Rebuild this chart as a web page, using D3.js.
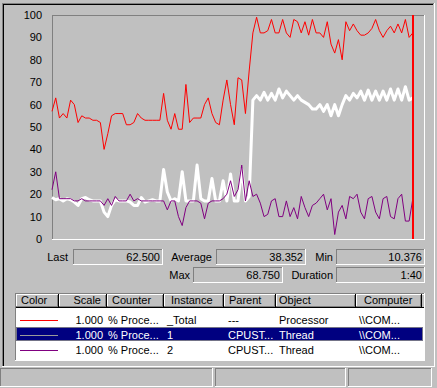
<!DOCTYPE html>
<html>
<head>
<meta charset="utf-8">
<script src="https://cdn.jsdelivr.net/npm/d3@7"></script>
<style>
  body { margin: 0; background: #c0c0c0; }
  svg { display: block; font-family: "Liberation Sans", Arial, sans-serif; font-size: 11px; }
  text { fill: #000; }
</style>
</head>
<body>
<svg width="437" height="388"></svg>
<script>
// one sample per second, 98 samples so far (the red bar marks the current one)
var totalCpu = [57,63,54,56,54,62,60,52,55,54,54,53,53,52,40,47,55,56,56,56,
    51,51,52,56,54,53,53,53,53,53,65,53,49,56,49,49,69,52,54,54,
    54,60,63,56,52,51,62,71,60,51,72,71,56,75,92,99,92,92,93,98,
    92,92,98,92,90,98,97,92,97,91,98,92,92,90,97,87,83,89,80,97,
    93,96,93,91,91,92,94,98,93,90,93,95,92,96,92,98,90,92];
var thread1 = [18.5,17.5,18,17,18,17.5,16.5,15,18,18.5,17.5,17,17,17,12,10,15,17.5,17,17,
    17,16.5,15,15,18.5,16.5,17,17.5,17,17,31,21,17,18,17,30,17,17,17,33,
    18,17,17,27,17,17,26,17,29,17,17,31,17,19,62,64,62,65.5,62,65,
    62,67,63,66,64,62,64,62,61,60,58,58,60,57,60,55,60,55,60,64,
    62,65,63,66,62,66.5,62,66,62,66,62,67,62,67,62,68,62,63];
var thread2 = [22,30,18,18,18,18,17,17,18,17,17,17,17,17,15,18,15,19,17,17,
    17,20,17,18,17,17,17,17,17,17,17,13,17,17,10,6,14,17,17,17,
    16,9,16,17,17,17,18,20,26,19,22,33,17,26,19,20,16,10,11,17,
    18,10,10,17,10,14,9,19,14,10,15,16,18,20,13,18,2,12,15,9,
    19,18,20,12,9,18,19,12,9,18,19,10,9,18,20,8,8,18];

var yTicks = [0,10,20,30,40,50,60,70,80,90,100];

var statLabels = ["Last", "Average", "Min", "Max", "Duration"];
var statValues = ["62.500", "38.352", "10.376", "68.750", "1:40"];

var legendHeaders = ["Color", "Scale", "Counter", "Instance", "Parent", "Object", "Computer"];
var legendColors = ["#ff0000", "#ffffff", "#800080"];
var legendScale = ["1.000", "1.000", "1.000"];
var legendCounter = ["% Proce...", "% Proce...", "% Proce..."];
var legendInstance = ["_Total", "1", "2"];
var legendParent = ["---", "CPUST...", "CPUST..."];
var legendObject = ["Processor", "Thread", "Thread"];
var legendComputer = ["\\\\COM...", "\\\\COM...", "\\\\COM..."];

var svg = d3.select("svg");

function hline(g, x1, x2, y, c) {
  g.append("line").attr("x1", x1).attr("x2", x2).attr("y1", y + 0.5).attr("y2", y + 0.5)
    .attr("stroke", c).attr("shape-rendering", "crispEdges");
}
function vline(g, x, y1, y2, c) {
  g.append("line").attr("x1", x + 0.5).attr("x2", x + 0.5).attr("y1", y1).attr("y2", y2)
    .attr("stroke", c).attr("shape-rendering", "crispEdges");
}
// sunken box: dark top/left, white bottom/right
function sunken(g, x1, y1, x2, y2) {
  hline(g, x1, x2, y1, "#808080");
  vline(g, x1, y1, y2, "#808080");
  hline(g, x1, x2 + 1, y2, "#ffffff");
  vline(g, x2, y1, y2 + 1, "#ffffff");
}

var frame = svg.append("g");
// outer panel
hline(frame, 2, 434, 3, "#808080");
vline(frame, 2, 3, 367, "#808080");
hline(frame, 3, 433, 4, "#000000");
vline(frame, 3, 4, 366, "#000000");
hline(frame, 2, 435, 366, "#ffffff");
vline(frame, 434, 3, 367, "#ffffff");

// graph
var x = d3.scaleLinear().domain([0, 100]).range([52, 424]);
var y = d3.scaleLinear().domain([0, 100]).range([239, 15]);

sunken(frame, 52, 15, 424, 239);

var yAxis = svg.append("g")
    .attr("transform", "translate(52,0)")
    .call(d3.axisLeft(y).tickValues(yTicks).tickSize(0).tickPadding(10));
yAxis.select(".domain").remove();
yAxis.selectAll("text").attr("fill", "#000").style("font-size", "11px")
    .style("font-family", "'Liberation Sans', Arial, sans-serif");

var line = d3.line()
    .x(function(d, i) { return x(i); })
    .y(function(d) { return y(d); });

var series = [totalCpu, thread1, thread2];
var widths = [1, 3, 1];
series.forEach(function(s, k) {
  svg.append("path")
    .datum(s)
    .attr("d", line)
    .attr("fill", "none")
    .attr("stroke", legendColors[k])
    .attr("stroke-width", widths[k])
    .attr("stroke-linejoin", k === 1 ? "round" : "miter");
});

// current-time bar
svg.append("rect")
  .attr("x", Math.round(x(totalCpu.length - 1)) - 1)
  .attr("y", y(100))
  .attr("width", 2)
  .attr("height", y(0) - y(100))
  .attr("fill", "#ff0000");

// statistics boxes
var statBoxes = [[73, 249, 162, 264], [216, 249, 305, 264], [336, 249, 424, 264],
                 [193, 267, 282, 282], [336, 267, 424, 282]];
var labelRight = [68, 212, 333, 190, 333];
statBoxes.forEach(function(b, i) {
  sunken(frame, b[0], b[1], b[2], b[3]);
  svg.append("text").attr("x", labelRight[i]).attr("y", (b[1] + b[3]) / 2 + 4)
    .attr("text-anchor", "end").text(statLabels[i]);
  svg.append("text").attr("x", b[2] - 2).attr("y", (b[1] + b[3]) / 2 + 4)
    .attr("text-anchor", "end").text(statValues[i]);
});

// legend list
var lg = svg.append("g");
sunken(lg, 15, 293, 424, 360);
lg.append("rect").attr("x", 16).attr("y", 308).attr("width", 408).attr("height", 52).attr("fill", "#fff");

var cols = [16, 59, 107, 164, 224, 276, 356, 422];
for (var c = 0; c < cols.length - 1; c++) {
  var x1 = cols[c], x2 = cols[c + 1] - 1;
  hline(lg, x1, x2, 294, "#ffffff");
  vline(lg, x1, 294, 307, "#ffffff");
  hline(lg, x1, x2, 306, "#808080");
  vline(lg, x2 - 1, 295, 307, "#808080");
  hline(lg, x1, x2 + 1, 307, "#000000");
  vline(lg, x2, 294, 308, "#000000");
}
hline(lg, 422, 424, 294, "#ffffff");
hline(lg, 422, 424, 307, "#000000");

var headX = [21, 101, 112, 171, 229, 279, 364];
legendHeaders.forEach(function(h, i) {
  lg.append("text").attr("x", headX[i]).attr("y", 304)
    .attr("text-anchor", i === 1 ? "end" : "start").text(h);
});

var rowY = d3.scaleBand().domain(d3.range(3)).range([311, 356]);
// selected row
lg.append("rect").attr("x", 16).attr("y", rowY(1) + 1).attr("width", 407).attr("height", 14).attr("fill", "#000080");
lg.append("rect").attr("x", 16.5).attr("y", rowY(1) + 1.5).attr("width", 406).attr("height", 13)
  .attr("fill", "none").attr("stroke", "#e8e890").attr("stroke-dasharray", "1,1");

legendInstance.forEach(function(inst, i) {
  var cy = rowY(i) + rowY.bandwidth() / 2 + 1;
  var fg = i === 1 ? "#ffffff" : "#000000";
  lg.append("line").attr("x1", 20).attr("x2", 58).attr("y1", Math.round(cy) + 0.5).attr("y2", Math.round(cy) + 0.5)
    .attr("stroke", i === 1 ? "#9a9a9a" : legendColors[i]).attr("shape-rendering", "crispEdges");
  var cells = [[103, legendScale[i], "end"], [108, legendCounter[i], "start"], [167, inst, "start"],
               [228, legendParent[i], "start"], [279, legendObject[i], "start"], [359, legendComputer[i], "start"]];
  cells.forEach(function(cell) {
    lg.append("text").attr("x", cell[0]).attr("y", cy + 4).attr("text-anchor", cell[2])
      .style("fill", fg).text(cell[1]);
  });
});

// status bar
sunken(frame, 0, 368, 212, 386);
sunken(frame, 215, 368, 345, 386);
sunken(frame, 348, 368, 431, 386);
</script>
</body>
</html>
